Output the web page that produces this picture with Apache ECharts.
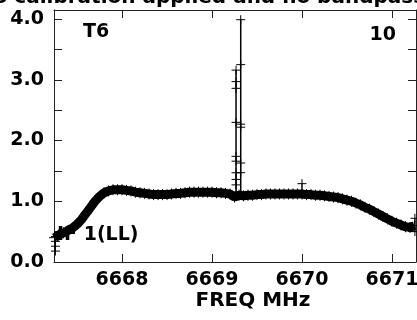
<!DOCTYPE html>
<html>
<head>
<meta charset="utf-8">
<script src="https://cdn.jsdelivr.net/npm/echarts@6/dist/echarts.min.js"></script>
<style>
  html, body { margin: 0; padding: 0; background: #fff; }
  #main { width: 417px; height: 320px; }
</style>
</head>
<body>
<div id="main"></div>
<script>
// 频谱主带 (每 0.05 MHz 读一个值)
var bandFreq = [6667.25, 6667.30, 6667.35, 6667.40, 6667.45, 6667.50, 6667.55, 6667.60, 6667.65, 6667.70,
  6667.75, 6667.80, 6667.85, 6667.90, 6667.95, 6668.00, 6668.05, 6668.10, 6668.15, 6668.20,
  6668.25, 6668.30, 6668.35, 6668.40, 6668.45, 6668.50, 6668.55, 6668.60, 6668.65, 6668.70,
  6668.75, 6668.80, 6668.85, 6668.90, 6668.95, 6669.00, 6669.05, 6669.10, 6669.15, 6669.20,
  6669.25, 6669.30, 6669.35, 6669.40, 6669.45, 6669.50, 6669.55, 6669.60, 6669.65, 6669.70,
  6669.75, 6669.80, 6669.85, 6669.90, 6669.95, 6670.00, 6670.05, 6670.10, 6670.15, 6670.20,
  6670.25, 6670.30, 6670.35, 6670.40, 6670.45, 6670.50, 6670.55, 6670.60, 6670.65, 6670.70,
  6670.75, 6670.80, 6670.85, 6670.90, 6670.95, 6671.00, 6671.05, 6671.10, 6671.15, 6671.20,
  6671.25];
var bandVal = [0.40, 0.45, 0.48, 0.52, 0.56, 0.62, 0.70, 0.80, 0.90, 1.00,
  1.08, 1.14, 1.17, 1.19, 1.19, 1.19, 1.18, 1.17, 1.15, 1.14,
  1.13, 1.12, 1.11, 1.11, 1.11, 1.11, 1.12, 1.13, 1.13, 1.14,
  1.15, 1.15, 1.15, 1.15, 1.15, 1.15, 1.14, 1.14, 1.13, 1.12,
  1.07, 1.10, 1.09, 1.10, 1.10, 1.11, 1.11, 1.12, 1.12, 1.12,
  1.12, 1.12, 1.12, 1.12, 1.12, 1.12, 1.11, 1.11, 1.10, 1.10,
  1.09, 1.08, 1.07, 1.06, 1.04, 1.02, 1.00, 0.97, 0.94, 0.90,
  0.87, 0.83, 0.79, 0.75, 0.71, 0.67, 0.64, 0.61, 0.58, 0.57,
  0.60];

// 谱线尖峰 (两条竖线上的点)
var spikeLeftFreq = 6669.267;
var spikeLeftVal = [1.10, 1.27, 1.36, 1.47, 1.66, 1.74, 2.30, 2.86, 2.97, 3.16];
var spikeRightFreq = 6669.319;
var spikeRightVal = [1.10, 1.47, 1.63, 2.22, 2.27, 3.25, 3.99];

// 零散点
var outlierFreq = 6670.0;
var outlierVal = [1.12, 1.29];
var leftEdgeFreq = 6667.26;
var leftEdgeVal = [0.18, 0.26, 0.34, 0.42];
var rightEdgeFreq = 6671.255;
var rightEdgeVal = [0.50, 0.60, 0.72];

// 刻度
var xTicks = [6668, 6669, 6670, 6671];
var yTicks = [0, 0.5, 1, 1.5, 2, 2.5, 3, 3.5, 4];
var yLabels = [0, 1, 2, 3, 4];

var xMin = 6667.244, xMax = 6671.267;
var yMin = 0, yMax = 4.15;

var FONT = 'DejaVu Sans';
var PLUS = 'path://M0,4L8,4M4,0L4,8';

function vertical(f, vals) {
  return vals.map(function (v) { return [f, v]; });
}

var myChart = echarts.init(document.getElementById('main'), null, { renderer: 'canvas' });

function plusSeries(data, lineWidth, size) {
  return {
    type: 'line',
    data: data,
    symbol: PLUS,
    symbolSize: size,
    showSymbol: true,
    showAllSymbol: true,
    lineStyle: { color: '#000', width: lineWidth },
    itemStyle: { color: '#000', borderColor: '#000', borderWidth: 1 },
    emphasis: { disabled: true },
    silent: true,
    z: 3
  };
}

function xAxisOf(pos, labels) {
  return {
    type: 'value',
    position: pos,
    min: xMin,
    max: xMax,
    axisLine: { show: true, onZero: false, lineStyle: { color: '#222', width: 1 } },
    axisTick: { show: true, inside: true, length: 8, customValues: xTicks, lineStyle: { color: '#222' } },
    axisLabel: {
      show: labels,
      customValues: xTicks,
      formatter: function (v) { return String(Math.round(v)); },
      color: '#000', fontSize: 19, fontWeight: 'bold', fontFamily: FONT, margin: 9
    },
    splitLine: { show: false }
  };
}

function yAxisOf(pos, labels) {
  return {
    type: 'value',
    position: pos,
    min: yMin,
    max: yMax,
    axisLine: { show: true, onZero: false, lineStyle: { color: '#222', width: 1 } },
    axisTick: { show: true, inside: true, length: 8, customValues: yTicks, lineStyle: { color: '#222' } },
    axisLabel: {
      show: labels,
      customValues: yLabels,
      formatter: function (v) { return v.toFixed(1); },
      color: '#000', fontSize: 19, fontWeight: 'bold', fontFamily: FONT, margin: 10,
      padding: [4, 0, 0, 0]
    },
    splitLine: { show: false }
  };
}

var option = {
  animation: false,
  backgroundColor: '#fff',
  grid: { left: 54, right: 1, top: 10, bottom: 58, containLabel: false, outerBoundsMode: 'none' },
  xAxis: [xAxisOf('bottom', true), xAxisOf('top', false)],
  yAxis: [yAxisOf('left', true), yAxisOf('right', false)],
  graphic: [
    { type: 'text', x: 201, y: -2, silent: true,
      style: { text: 'No calibration applied and no bandpass', font: 'bold 20px "DejaVu Sans"', fill: '#000', align: 'center', verticalAlign: 'middle' } },
    { type: 'text', x: 83, y: 32, silent: true, z: 10,
      style: { text: 'T6', font: 'bold 19px "DejaVu Sans"', fill: '#000', align: 'left', verticalAlign: 'middle' } },
    { type: 'text', x: 396, y: 35, silent: true, z: 10,
      style: { text: '10', font: 'bold 19px "DejaVu Sans"', fill: '#000', align: 'right', verticalAlign: 'middle' } },
    { type: 'text', x: 57, y: 235, silent: true, z: 10,
      style: { text: 'IF 1(LL)', font: 'bold 19px "DejaVu Sans"', fill: '#000', align: 'left', verticalAlign: 'middle' } },
    { type: 'text', x: 253, y: 301, silent: true, z: 10,
      style: { text: 'FREQ MHz', font: 'bold 20px "DejaVu Sans"', fill: '#000', align: 'center', verticalAlign: 'middle' } }
  ],
  series: [
    plusSeries(bandFreq.map(function (f, i) { return [f, bandVal[i]]; }), 9, 11),
    plusSeries(vertical(spikeLeftFreq, spikeLeftVal), 1.5, 9),
    plusSeries(vertical(spikeRightFreq, spikeRightVal), 1.5, 9),
    plusSeries(vertical(outlierFreq, outlierVal), 1, 9),
    plusSeries(vertical(leftEdgeFreq, leftEdgeVal), 1, 9),
    plusSeries(vertical(rightEdgeFreq, rightEdgeVal), 1, 9)
  ]
};

myChart.setOption(option);
</script>
</body>
</html>
